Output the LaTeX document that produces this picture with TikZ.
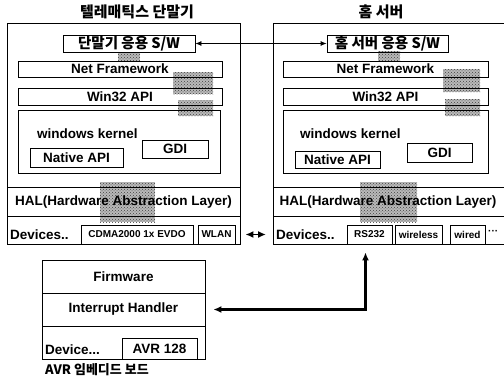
\documentclass[tikz,border=0pt]{standalone}
\usepackage{fontspec}
\setmainfont{Liberation Sans}
\newfontfamily\kr{Noto Sans CJK KR}
\usetikzlibrary{calc,patterns,arrows.meta}

\tikzset{
	box/.style={draw, line width=0.8pt, inner sep=0pt, font=\bfseries\fontsize{13.5}{14}\selectfont},
	devbox/.style={draw, line width=0.8pt, inner sep=0pt, minimum height=19pt, font=\bfseries\fontsize{10}{10}\selectfont},
	txt/.style={inner sep=0pt, font=\bfseries\fontsize{13.5}{14}\selectfont},
	krtxt/.style={inner sep=0pt, font=\kr\bfseries\fontsize{15}{16}\selectfont},
	swbox/.style={box, minimum height=17pt, font=\kr\bfseries\fontsize{14.5}{15}\selectfont},
	noise/.style={preaction={fill=gray!55}, pattern=crosshatch dots, pattern color=black!75},
	link/.style={line width=0.8pt, {Latex[length=6pt,width=5pt]}-{Latex[length=6pt,width=5pt]}},
	biglink/.style={line width=2.2pt, {Latex[length=8pt,width=7pt]}-{Latex[length=8pt,width=7pt]}},
}

\begin{document}
\begin{tikzpicture}[x=1pt,y=-1pt]
		\useasboundingbox (0,0) rectangle (504,380);
		
		% gray marks
		\fill[noise] (118,52) rectangle (140,61);
		\fill[noise] (173,72) rectangle (213,94);
		\fill[noise] (178,100) rectangle (213,116);
		\fill[noise] (100,182) rectangle (155,222);
		\fill[noise] (378,51) rectangle (400,61);
		\fill[noise] (443,69) rectangle (480,92);
		\fill[noise] (445,99) rectangle (480,116);
		\fill[noise] (360,182) rectangle (417,222);
		
		% telematics terminal
		\node[krtxt] (titleL) at (137,12) {텔레매틱스 단말기};
		\node[box, minimum width=233pt, minimum height=221pt] (frameL) at (123.5,133.5) {};
		\node[swbox, minimum width=132pt] (swL) at (129,43.5) {단말기 응용 S/W};
		\node[box, minimum width=204pt, minimum height=16pt] (netL) at (120,69) {Net Framework};
		\node[box, minimum width=204pt, minimum height=17pt] (winL) at (120,96.5) {Win32 API};
		\node[box, minimum width=202pt, minimum height=63pt] (kerL) at (119,141.5) {};
		\node[txt, anchor=west] (kerlabL) at (37,134) {windows kernel};
		\node[box, minimum width=93pt, minimum height=19pt] (natL) at (76.5,157.5) {Native API};
		\node[box, minimum width=66pt, minimum height=18pt] (gdiL) at (175,149) {GDI};
		\draw[line width=0.8pt] (7,187) -- (240,187);
		\draw[line width=0.8pt] (7,216) -- (240,216);
		\node[txt] (halL) at (123.5,202) {HAL(Hardware Abstraction Layer)};
		\node[txt, anchor=west] (devL) at (10,235) {Devices..};
		\node[devbox, minimum width=112pt] (cdma) at (137,234.5) {CDMA2000 1x EVDO};
		\node[devbox, minimum width=37pt] (wlan) at (216.5,234.5) {WLAN};
		
		% home server
		\node[krtxt] (titleR) at (381,12) {홈 서버};
		\draw[line width=0.8pt] (504,23) -- (273,23) -- (273,244) -- (504,244);
		\node[swbox, minimum width=121pt] (swR) at (387.5,43.5) {홈 서버 응용 S/W};
		\node[box, minimum width=205pt, minimum height=16pt] (netR) at (385.5,69) {Net Framework};
		\node[box, minimum width=205pt, minimum height=17pt] (winR) at (385.5,96.5) {Win32 API};
		\node[box, minimum width=205pt, minimum height=63pt] (kerR) at (385.5,141.5) {};
		\node[txt, anchor=west] (kerlabR) at (300,134) {windows kernel};
		\node[box, minimum width=85pt, minimum height=17pt] (natR) at (337.5,159.5) {Native API};
		\node[box, minimum width=65pt, minimum height=19pt] (gdiR) at (439.5,152.5) {GDI};
		\draw[line width=0.8pt] (273,187) -- (504,187);
		\draw[line width=0.8pt] (273,216) -- (504,216);
		\node[txt] (halR) at (388,202) {HAL(Hardware Abstraction Layer)};
		\node[txt, anchor=west] (devR) at (276,235) {Devices..};
		\node[devbox, minimum width=45pt] (rs) at (369.5,234.5) {RS232};
		\node[devbox, minimum width=47pt] (wls) at (418.5,234.5) {wireless};
		\node[devbox, minimum width=35pt] (wrd) at (467.5,234.5) {wired};
		\node[txt, anchor=west, font=\bfseries\fontsize{10}{10}\selectfont] (more) at (488,232) {···};
		
		% AVR board
		\node[box, minimum width=163pt, minimum height=33pt] (fw) at (123.5,276.5) {Firmware};
		\node[box, minimum width=163pt, minimum height=33pt] (ih) at (123.5,309.5) {Interrupt Handler};
		\node[box, minimum width=163pt, minimum height=33pt] (devrow) at (123.5,342.5) {};
		\node[txt, anchor=west] (devA) at (45,350) {Device...};
		\node[box, minimum width=75pt, minimum height=21pt] (avr) at (159.5,348.5) {AVR 128};
		\node[krtxt, font=\kr\bfseries\fontsize{13}{14}\selectfont] (capA) at (97,370) {AVR 임베디드 보드};
		
		% links
		\draw[link] (swL.east) -- (swR.west);
		\draw[biglink, line width=1.6pt, shorten <=10pt, shorten >=10pt] (wlan.east) -- (wlan.east -| devR.west);
		\draw[biglink, shorten <=8pt, shorten >=8pt] (ih.east) -| ([xshift=-4pt]rs.south);
		
\end{tikzpicture}
\end{document}
